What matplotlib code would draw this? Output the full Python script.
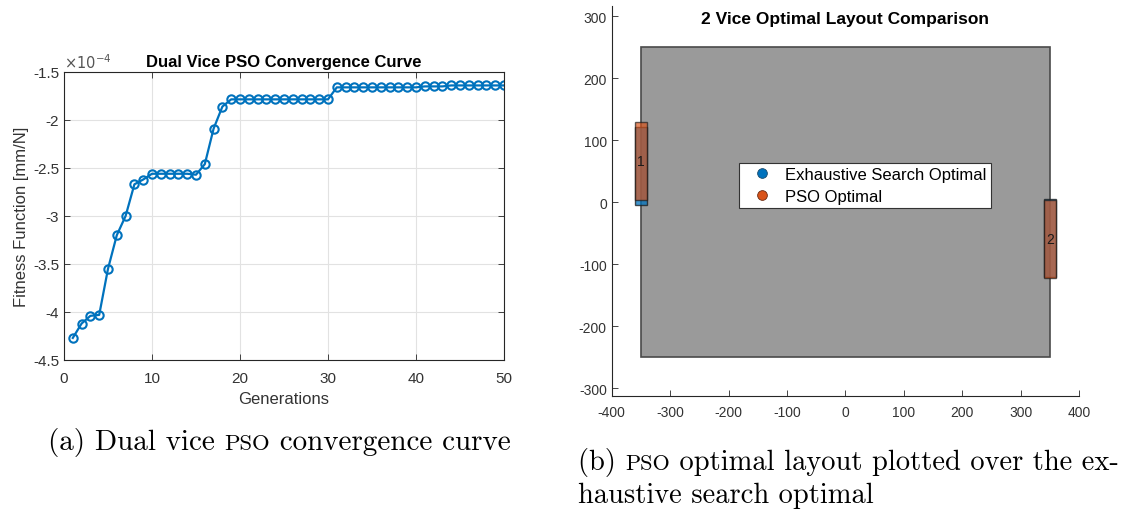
import matplotlib
matplotlib.use("Agg")
import matplotlib.pyplot as plt
from matplotlib.patches import Rectangle
from matplotlib.lines import Line2D
from matplotlib.ticker import FuncFormatter

# ---------------- data ----------------
generations = list(range(1, 51))
fitness_e4 = [-4.27, -4.12, -4.04, -4.03, -3.55, -3.20, -3.00, -2.67, -2.62, -2.56,
              -2.56, -2.56, -2.56, -2.56, -2.57, -2.46, -2.09, -1.86, -1.785, -1.785,
              -1.785, -1.785, -1.785, -1.785, -1.785, -1.785, -1.785, -1.785, -1.785, -1.785,
              -1.66, -1.66, -1.66, -1.66, -1.66, -1.66, -1.66, -1.66, -1.66, -1.66,
              -1.65, -1.65, -1.65, -1.64, -1.64, -1.64, -1.64, -1.64, -1.64, -1.64]
left_yticks = [-4.5, -4, -3.5, -3, -2.5, -2, -1.5]
left_xticks = [0, 10, 20, 30, 40, 50]

plate_x = [-350, 350]
plate_y = [-250, 250]
vice_ids = ["1", "2"]
vice_x = [-350, 350]
vice_width = 20
vice_length = 125
exh_y_bottom = [-4, -120]
pso_y_bottom = [4, -122]
right_xticks = [-400, -300, -200, -100, 0, 100, 200, 300, 400]
right_yticks = [-300, -200, -100, 0, 100, 200, 300]
legend_labels = ["Exhaustive Search Optimal", "PSO Optimal"]

BLUE = "#0072BD"
ORANGE = "#D95319"
TXT = "#262626"

plt.rcParams['font.family'] = ['Liberation Sans', 'DejaVu Sans']

fig = plt.figure(figsize=(11.25, 5.10), dpi=100)

# ---------------- left axes ----------------
ax1 = fig.add_axes([64/1125, 1-361/510, (504-64)/1125, (361-73)/510])
ax1.plot(generations, fitness_e4, color=BLUE, lw=1.6, marker='o', ms=6,
         mfc='none', mec=BLUE, mew=1.5)
ax1.set_xlim(0, 50)
ax1.set_ylim(-4.5, -1.5)
ax1.set_xticks(left_xticks)
ax1.set_yticks(left_yticks)
ax1.yaxis.set_major_formatter(FuncFormatter(lambda v, p: "%g" % v))
ax1.grid(True, color="#e2e2e2", lw=0.8)
ax1.set_axisbelow(True)
ax1.tick_params(direction='in', top=True, right=True, length=4, width=0.6,
                colors=TXT, labelsize=11, labelcolor="#333333")
ax1.tick_params(axis='x', pad=8)
for s in ax1.spines.values():
    s.set_color(TXT)
    s.set_linewidth(0.8)
ax1.set_title("Dual Vice PSO Convergence Curve", fontsize=12, fontweight='bold',
              color='black', pad=4)
ax1.set_xlabel("Generations", fontsize=12, color="#333333", labelpad=4)
ax1.set_ylabel("Fitness Function [mm/N]", fontsize=12, color="#333333", labelpad=3)
ax1.text(0.0, 1.005, r"$\times10^{-4}$", transform=ax1.transAxes, fontsize=10.5,
         color="#555555", ha='left', va='bottom')

# ---------------- right axes ----------------
ax2 = fig.add_axes([611.7/1125, 1-396.7/510, (1079-611.7)/1125, 390/510])
ax2.add_patch(Rectangle((plate_x[0], plate_y[0]), plate_x[1]-plate_x[0], plate_y[1]-plate_y[0],
                        facecolor="#9a9a9a", edgecolor="#4a4a4a", lw=1.2, zorder=1))
for x, yb in zip(vice_x, exh_y_bottom):
    ax2.add_patch(Rectangle((x - vice_width/2, yb), vice_width, vice_length,
                            facecolor=BLUE, edgecolor="#1a1a1a", lw=1.0, alpha=0.75, zorder=2))
for x, yb in zip(vice_x, pso_y_bottom):
    ax2.add_patch(Rectangle((x - vice_width/2, yb), vice_width, vice_length,
                            facecolor=ORANGE, edgecolor="#1a1a1a", lw=1.0, alpha=0.68, zorder=3))
for vid, x, yb in zip(vice_ids, vice_x, pso_y_bottom):
    ax2.text(x, yb + vice_length/2, vid, ha='center', va='center', fontsize=10,
             color='#1a1a1a', zorder=4)
ax2.set_xlim(-400, 400)
ax2.set_ylim(-312, 317)
ax2.set_xticks(right_xticks)
ax2.set_yticks(right_yticks)
ax2.xaxis.set_major_formatter(FuncFormatter(lambda v, p: "%g" % v))
ax2.yaxis.set_major_formatter(FuncFormatter(lambda v, p: "%g" % v))
ax2.spines['top'].set_visible(False)
ax2.spines['right'].set_visible(False)
for s in ('left', 'bottom'):
    ax2.spines[s].set_color(TXT)
    ax2.spines[s].set_linewidth(0.8)
ax2.tick_params(direction='in', length=4, width=0.6, colors=TXT, labelsize=10,
                labelcolor="#333333")
ax2.tick_params(axis='x', pad=7)
ax2.text(0.5, 0.968, "2 Vice Optimal Layout Comparison", transform=ax2.transAxes,
         fontsize=12.5, fontweight='bold', color='black', ha='center', va='center')
handles = [Line2D([], [], ls='none', marker='o', ms=7, mfc=BLUE, mec="#1a4a6a", mew=0.6),
           Line2D([], [], ls='none', marker='o', ms=7, mfc=ORANGE, mec="#6a2a10", mew=0.6)]
leg = ax2.legend(handles, legend_labels, loc='center', bbox_to_anchor=(0.542, 0.539),
                 fontsize=12, frameon=True, fancybox=False, edgecolor="#333333",
                 framealpha=1, borderpad=0.25, handletextpad=0.3, labelspacing=0.4,
                 handlelength=2.2)
leg.get_frame().set_linewidth(0.8)

# ---------------- captions ----------------
renderer = fig.canvas.get_renderer()
CAP_A = 21
CAP_B = 20.5


def draw_pieces(x_px, y_px, pieces):
    x = x_px
    for txt, size in pieces:
        t = fig.text(x / 1125, 1 - y_px / 510, txt, fontsize=size, family='cmr10',
                     ha='left', va='baseline', color='black')
        bb = t.get_window_extent(renderer=renderer)
        x += bb.width


draw_pieces(48, 450, [("(a) Dual vice ", CAP_A), ("PSO", CAP_A * 0.78),
                      (" convergence curve", CAP_A)])
draw_pieces(578, 470, [("(b) ", CAP_B), ("PSO", CAP_B * 0.78),
                       (" optimal layout plotted over the ex-", CAP_B)])
draw_pieces(578, 503, [("haustive search optimal", CAP_B)])

fig.savefig("out.png", dpi=100)
